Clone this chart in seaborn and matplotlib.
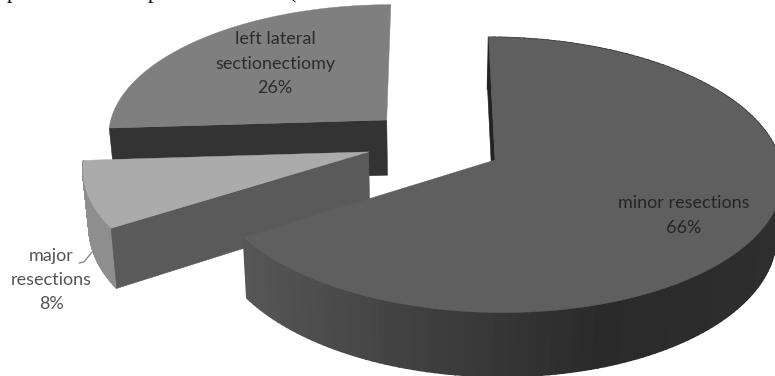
import numpy as np
import matplotlib
matplotlib.use("Agg")
import matplotlib.pyplot as plt
from matplotlib.patches import Polygon
import seaborn as sns

# Share of each resection type, in pie order clockwise from twelve o'clock
categories = ["minor resections", "major resections", "left lateral sectionectiomy"]
shares = [66, 8, 26]

sns.set_theme(style="white")
plt.rcParams["font.family"] = ["Lato", "DejaVu Sans"]

# Projection of the tilted disc onto the canvas
VANISH_X, PIVOT_X, PIVOT_Y = 430.0, 65.0, 160.0
RADIUS_X, RADIUS_Y = 285.0, 136.0
DEPTH = 57.0
TILT, TAPER = 0.1087, 0.018


def project(px, py):
    px, py = np.asarray(px, float), np.asarray(py, float)
    scale = 1.0 / (1.0 - TILT * py)
    return VANISH_X + (PIVOT_X + RADIUS_X * px) * scale, PIVOT_Y + RADIUS_Y * py * scale, scale


def lower(x, y, scale):
    return VANISH_X + (x - VANISH_X) * (1.0 - TAPER), y + DEPTH * scale


# The far slice turns its curved wall away from the viewer, so it has no rim shades
styles = {
    "minor resections": dict(offset=(0.0, 0.0), top="#5f5f5f", cut="#222222",
                             rim=sns.blend_palette(["#565656", "#3f3f3f", "#2a2a2a", "#2e2e2e"], 90)),
    "major resections": dict(offset=(-0.445, -0.06), top="#ababab", cut="#5a5a5a",
                             rim=["#8e8e8e"]),
    "left lateral sectionectiomy": dict(offset=(-0.385, -0.304), top="#7f7f7f", cut="#333333",
                                        rim=[]),
}

fig = plt.figure(figsize=(7.75, 3.76), dpi=100)
ax = fig.add_axes([0, 0, 1, 1])
ax.set_xlim(0, 775)
ax.set_ylim(376, 0)
ax.axis("off")

edges = np.cumsum([0] + shares) / sum(shares) * 2 * np.pi
spans = {c: (edges[i], edges[i + 1]) for i, c in enumerate(categories)}

# Back slice first, so the nearer slices overlap it
for z, name in enumerate(["left lateral sectionectiomy", "major resections", "minor resections"]):
    st = styles[name]
    a0, a1 = spans[name]
    ox, oy = st["offset"]
    theta = np.linspace(a0, a1, 180)
    rx, ry, rs = project(ox + np.sin(theta), oy - np.cos(theta))
    tip_x, tip_y, tip_s = project(ox, oy)
    bx, by = lower(rx, ry, rs)
    tip_bx, tip_by = lower(tip_x, tip_y, tip_s)

    # Outer wall, split into strips so it can carry a left-to-right shade
    lo, hi = rx.min(), rx.max()
    colours = st["rim"]
    for i in range(len(theta) - 1 if len(colours) else 0):
        mid = (rx[i] + rx[i + 1]) / 2
        c = colours[min(int((mid - lo) / (hi - lo) * len(colours)), len(colours) - 1)]
        quad = [(rx[i], ry[i]), (rx[i + 1], ry[i + 1]), (bx[i + 1], by[i + 1]), (bx[i], by[i])]
        ax.add_patch(Polygon(quad, closed=True, fc=c, ec=c, lw=1.2, zorder=z * 3 + 1))

    # Straight cut wall along the leading edge of the slice
    wall = [(tip_x, tip_y), (rx[0], ry[0]), (bx[0], by[0]), (tip_bx, tip_by)]
    ax.add_patch(Polygon(wall, closed=True, fc=st["cut"], ec=st["cut"], lw=0.4, zorder=z * 3 + 2))

    # Top face
    face = [(tip_x, tip_y)] + list(zip(rx, ry))
    ax.add_patch(Polygon(face, closed=True, fc=st["top"], ec=st["top"], lw=0.3, zorder=z * 3 + 3))

label_font = dict(ha="center", va="center", fontsize=13, zorder=20, linespacing=1.62)
ax.text(684, 215.5, f"minor resections\n{shares[0]}%", color="#252525", **label_font)
ax.text(275, 63.5, f"left lateral\nsectionectiomy\n{shares[2]}%", color="#2c2c2c", **label_font)
ax.text(51, 280, f"major\nresections\n{shares[1]}%", color="#555555", **label_font)
ax.plot([79, 84, 92], [263, 262, 252], color="#8a8a8a", lw=1.0, zorder=20)

# Tail of the sentence line running above the chart
for x, glyph in zip([12, 153, 293], ["p", "p", "("]):
    ax.text(x, -1.7, glyph, family="Liberation Serif", fontsize=16, color="black",
            ha="center", va="baseline", zorder=20, clip_on=False)

fig.savefig("out.png", dpi=100, facecolor="white")
